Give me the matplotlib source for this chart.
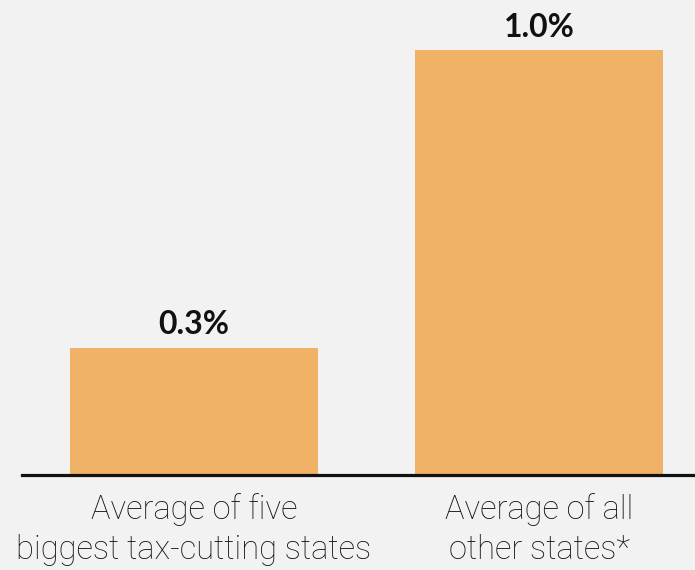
import matplotlib
matplotlib.use("Agg")
import matplotlib.pyplot as plt
from matplotlib import transforms

categories = ["Average of five\nbiggest tax-cutting states", "Average of all\nother states*"]
values = [0.3, 1.0]
value_labels = ["0.3%", "1.0%"]

BG = "#f2f2f2"
BAR = "#f0b266"

W, H, DPI = 695, 570, 100
fig = plt.figure(figsize=(W / DPI, H / DPI), dpi=DPI, facecolor=BG)

# axes spans from the left end of the baseline to the right edge
left_px, right_px = 22, 695
bottom_px, top_px = 475, 50
ax = fig.add_axes([left_px / W, (H - bottom_px) / H,
                   (right_px - left_px) / W, (bottom_px - top_px) / H])
ax.set_facecolor(BG)

x = [0, 1]
ax.bar(x, values, width=0.719, color=BAR, zorder=2)
ax.set_xlim(-0.4986, 1.452)
ax.set_ylim(0, 1.0)

for s in ["top", "right", "left"]:
    ax.spines[s].set_visible(False)
ax.spines["bottom"].set_linewidth(2.3)
ax.spines["bottom"].set_color("#111111")
ax.spines["bottom"].set_zorder(3)
ax.set_xticks([])
ax.set_yticks([])

for xi, v, lab in zip(x, values, value_labels):
    ax.annotate(lab, (xi, v), xytext=(0, 6), textcoords="offset points",
                ha="center", va="bottom", fontsize=23, fontweight="bold",
                family="Lato", color="#111111")

trans = transforms.blended_transform_factory(ax.transData, ax.transAxes)
for xi, cat in zip(x, categories):
    ax.text(xi, -0.042, cat, transform=trans, ha="center", va="top",
            fontsize=23.5, fontweight="light", family="Roboto",
            color="#141414", linespacing=1.33)

fig.savefig("out.png", dpi=DPI, facecolor=BG)
